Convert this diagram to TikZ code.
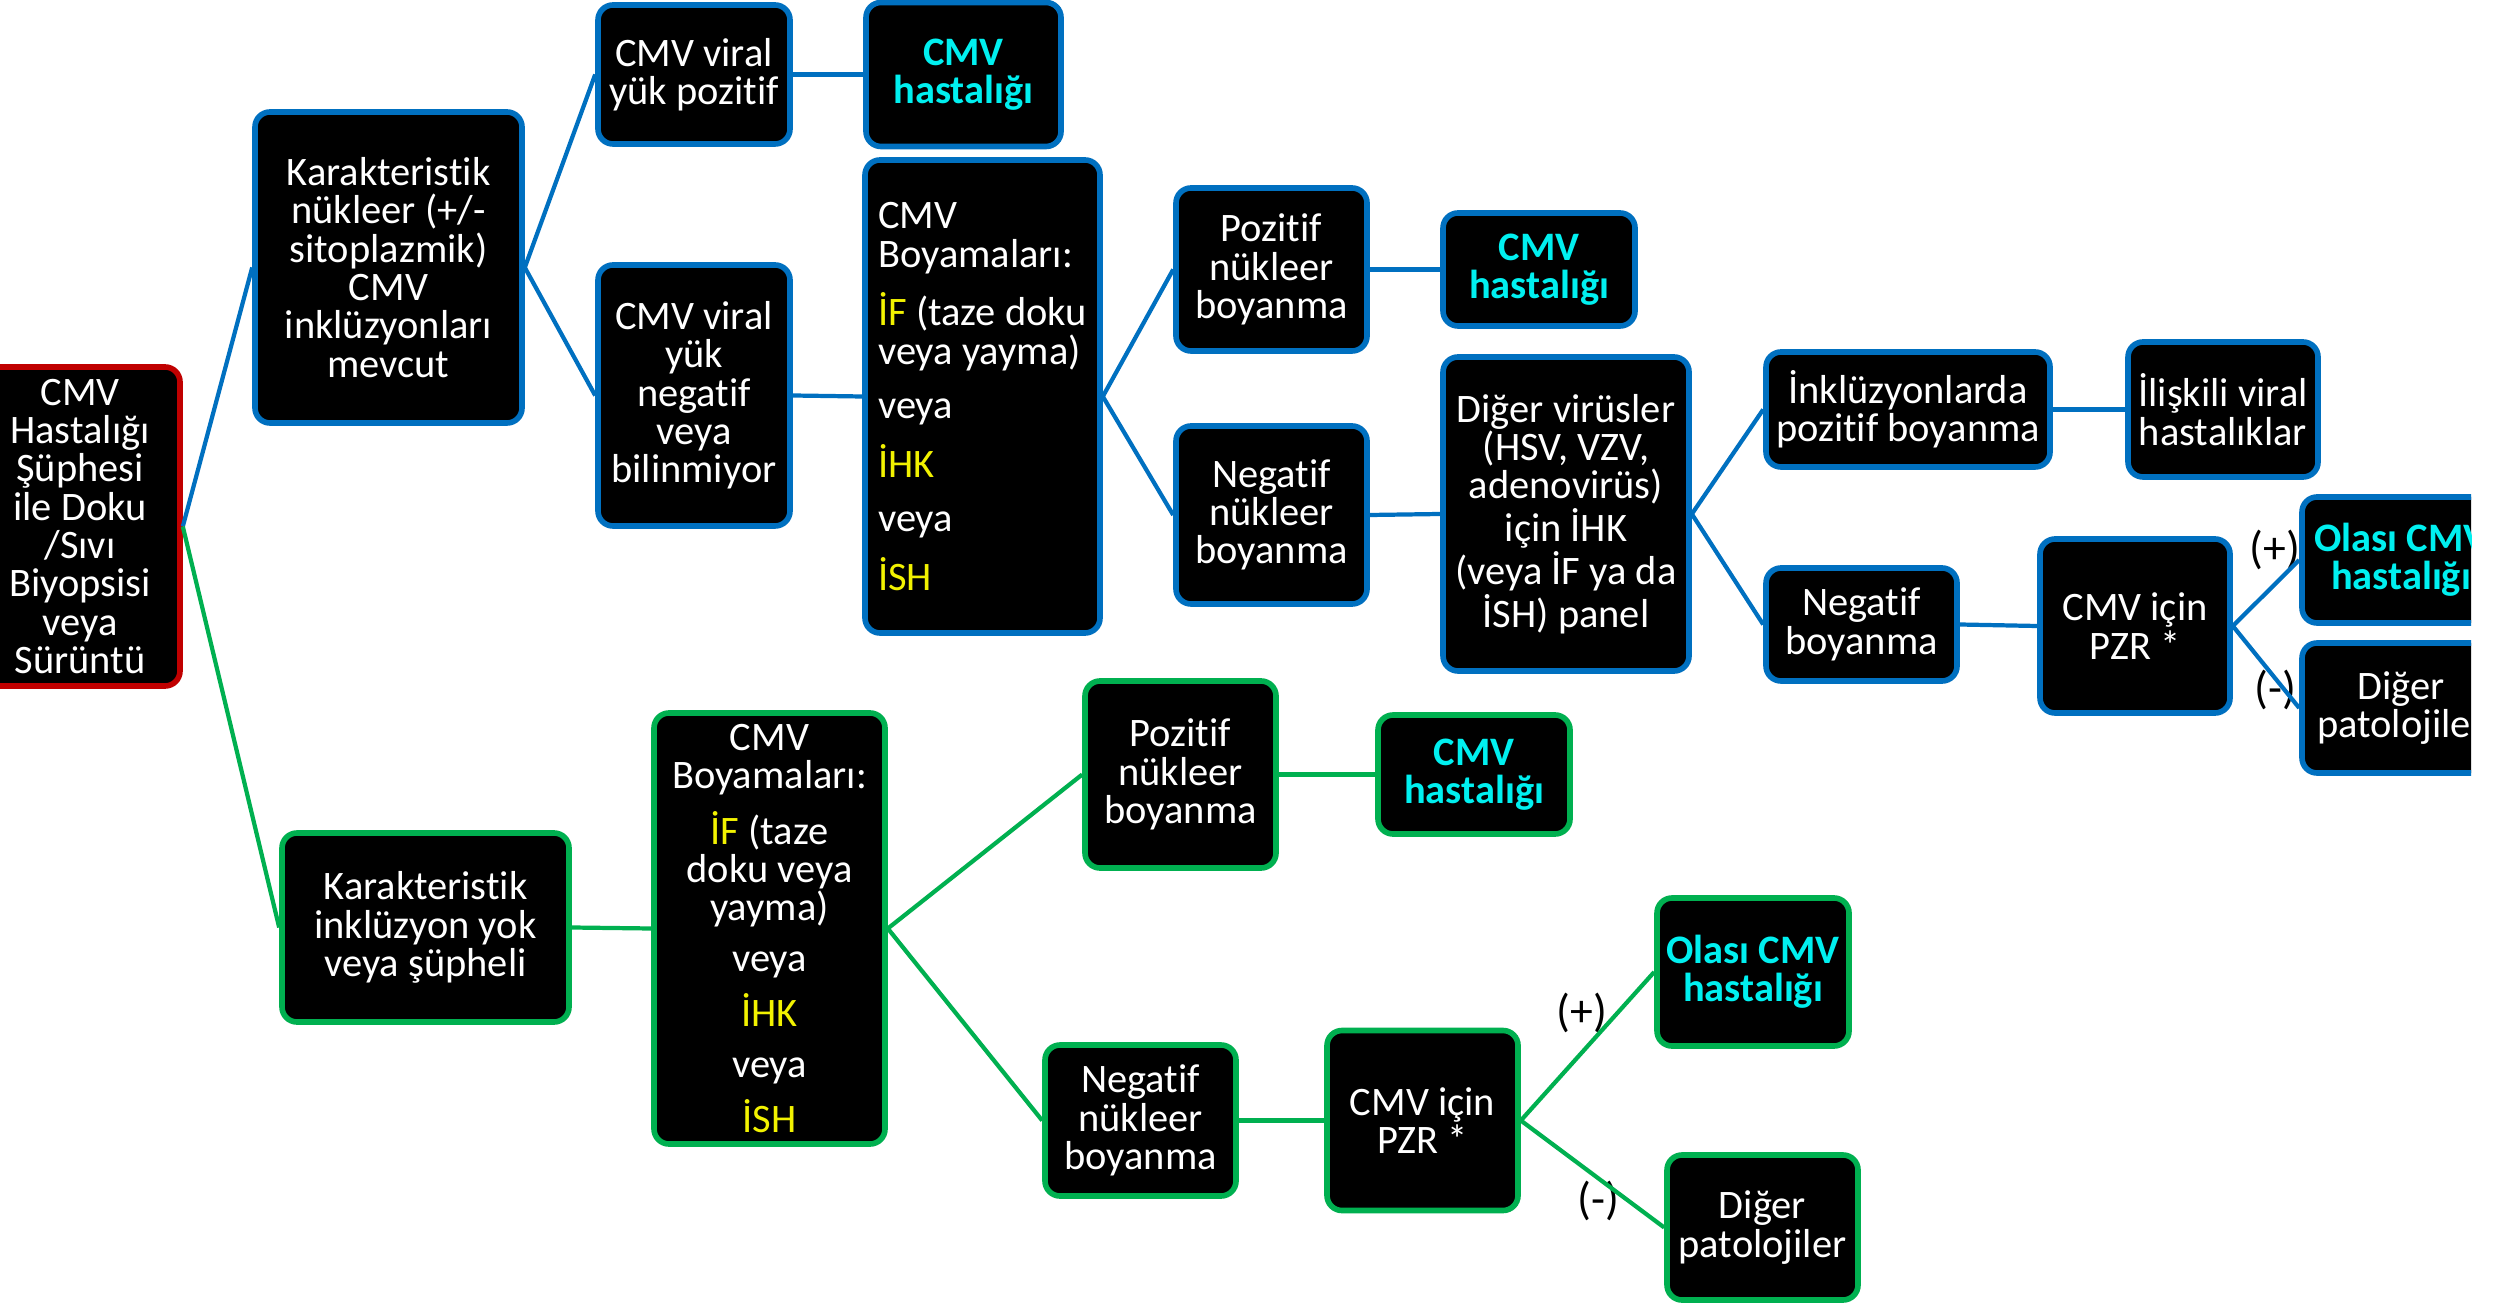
\documentclass[tikz,border=0pt]{standalone}
\usepackage{fontspec}
\setmainfont{Carlito}[Ligatures=NoCommon]
\definecolor{cBlue}{HTML}{0070C0}
\definecolor{cGreen}{HTML}{00B050}
\definecolor{cRed}{HTML}{C00000}
\definecolor{cCyan}{HTML}{00F0F0}
\definecolor{cYel}{HTML}{F2F200}
\newcommand{\cyantxt}[1]{\textcolor{cCyan}{\bfseries #1}}
\newcommand{\ylwtxt}[1]{\textcolor{cYel}{#1}}
\begin{document}
\begin{tikzpicture}[x=0.01cm,y=-0.01cm,
  boxbase/.style 2 args={draw, fill=black, rounded corners=0.15cm, line width=1.6pt,
    text=white, align=center, inner sep=0pt,
    minimum width=#1*0.01cm, minimum height=#2*0.01cm,
    font=\fontsize{11.5}{10.9}\selectfont},
  bb/.style 2 args={boxbase={#1}{#2}, draw=cBlue},
  gb/.style 2 args={boxbase={#1}{#2}, draw=cGreen},
  bline/.style={draw=cBlue, line width=1.2pt},
  gline/.style={draw=cGreen, line width=1.2pt},
  sign/.style={text=black, inner sep=0pt, font=\fontsize{13}{13}\selectfont}]
\fill[white] (0,0) rectangle (2501,1307);
\path[use as bounding box] (0,0) rectangle (2501,1307);
\begin{scope}
\clip (0,0) rectangle (2471,1307);

% root
\node[boxbase={200}{319}, draw=cRed] (root) at (80,526.5)
  {CMV\\Hastalığı\\Şüphesi\\ile Doku\\/Sıvı\\Biyopsisi\\veya\\Sürüntü};

% blue branch
\node[bb={267}{311}] (kn) at (388.5,267.5)
  {Karakteristik\\nükleer (+/-\\sitoplazmik)\\CMV\\inklüzyonları\\mevcut};
\node[bb={192}{139}] (vp) at (694,74.5) {CMV viral\\yük pozitif};
\node[bb={195}{144}] (h1) at (963.5,74.5) {\cyantxt{CMV}\\\cyantxt{hastalığı}};
\node[bb={192}{261}] (vn) at (694,395.5) {CMV viral\\yük\\negatif\\veya\\bilinmiyor};
\node[bb={235}{473}, align=left] (b1) at (982.5,396.5)
  {CMV\\Boyamaları:\\[4.5pt]\ylwtxt{İF} (taze doku\\veya yayma)\\[4.5pt]veya\\[4.5pt]\ylwtxt{İHK}\\[4.5pt]veya\\[4.5pt]\ylwtxt{İSH}};
\node[bb={191}{163}] (pn1) at (1271.5,269.5) {Pozitif\\nükleer\\boyanma};
\node[bb={192}{113}] (h2) at (1539,269.5) {\cyantxt{CMV}\\\cyantxt{hastalığı}};
\node[bb={191}{178}] (nn1) at (1271.5,515) {Negatif\\nükleer\\boyanma};
\node[bb={246}{314}] (dv) at (1566,514)
  {Diğer virüsler\\(HSV, VZV,\\adenovirüs)\\için İHK\\(veya İF ya da\\İSH) panel};
\node[bb={284}{115}] (ip) at (1908,409.5) {İnklüzyonlarda\\pozitif boyanma};
\node[bb={190}{135}] (iv) at (2223,409.5) {İlişkili viral\\hastalıklar};
\node[bb={191}{113}] (nb) at (1861.5,624.5) {Negatif\\boyanma};
\node[bb={190}{174}] (pz1) at (2135,626) {CMV için\\PZR *};
\node[bb={198}{126}] (oc1) at (2401,560) {\cyantxt{Olası CMV}\\\cyantxt{hastalığı}};
\node[bb={198}{130}] (dp1) at (2401,708) {Diğer\\patolojiler};
\node[sign] (s1) at (2275,550) {(+)};
\node[sign] (s2) at (2275,690) {(-)};

% green branch
\node[gb={287}{189}] (ki) at (425.5,927.5) {Karakteristik\\inklüzyon yok\\veya şüpheli};
\node[gb={231}{431}] (b2) at (769.5,928.5)
  {CMV\\Boyamaları:\\[3.5pt]\ylwtxt{İF} (taze\\doku veya\\yayma)\\[3.5pt]veya\\[3.5pt]\ylwtxt{İHK}\\[3.5pt]veya\\[3.5pt]\ylwtxt{İSH}};
\node[gb={191}{187}] (pn2) at (1180.5,774.5) {Pozitif\\nükleer\\boyanma};
\node[gb={192}{119}] (h3) at (1474,774.5) {\cyantxt{CMV}\\\cyantxt{hastalığı}};
\node[gb={191}{151}] (nn2) at (1140.5,1120.5) {Negatif\\nükleer\\boyanma};
\node[gb={191}{180}] (pz2) at (1422.5,1120.5) {CMV için\\PZR *};
\node[gb={192}{148}] (oc2) at (1753,972) {\cyantxt{Olası CMV}\\\cyantxt{hastalığı}};
\node[gb={191}{145}] (dp2) at (1762.5,1227.5) {Diğer\\patolojiler};
\node[sign] (s3) at (1582,1013) {(+)};
\node[sign] (s4) at (1598,1201) {(-)};

% connectors
\draw[bline] (root.east) -- (kn.west);
\draw[gline] (root.east) -- (ki.west);
\draw[bline] (kn.east) -- (vp.west);
\draw[bline] (kn.east) -- (vn.west);
\draw[bline] (vp.east) -- (h1.west);
\draw[bline] (vn.east) -- (b1.west);
\draw[bline] (b1.east) -- (pn1.west);
\draw[bline] (b1.east) -- (nn1.west);
\draw[bline] (pn1.east) -- (h2.west);
\draw[bline] (nn1.east) -- (dv.west);
\draw[bline] (dv.east) -- (ip.west);
\draw[bline] (dv.east) -- (nb.west);
\draw[bline] (ip.east) -- (iv.west);
\draw[bline] (nb.east) -- (pz1.west);
\draw[bline] (pz1.east) -- (oc1.west);
\draw[bline] (pz1.east) -- (dp1.west);

\draw[gline] (ki.east) -- (b2.west);
\draw[gline] (b2.east) -- (pn2.west);
\draw[gline] (b2.east) -- (nn2.west);
\draw[gline] (pn2.east) -- (h3.west);
\draw[gline] (nn2.east) -- (pz2.west);
\draw[gline] (pz2.east) -- (oc2.west);
\draw[gline] (pz2.east) -- (dp2.west);
\end{scope}
\end{tikzpicture}
\end{document}
